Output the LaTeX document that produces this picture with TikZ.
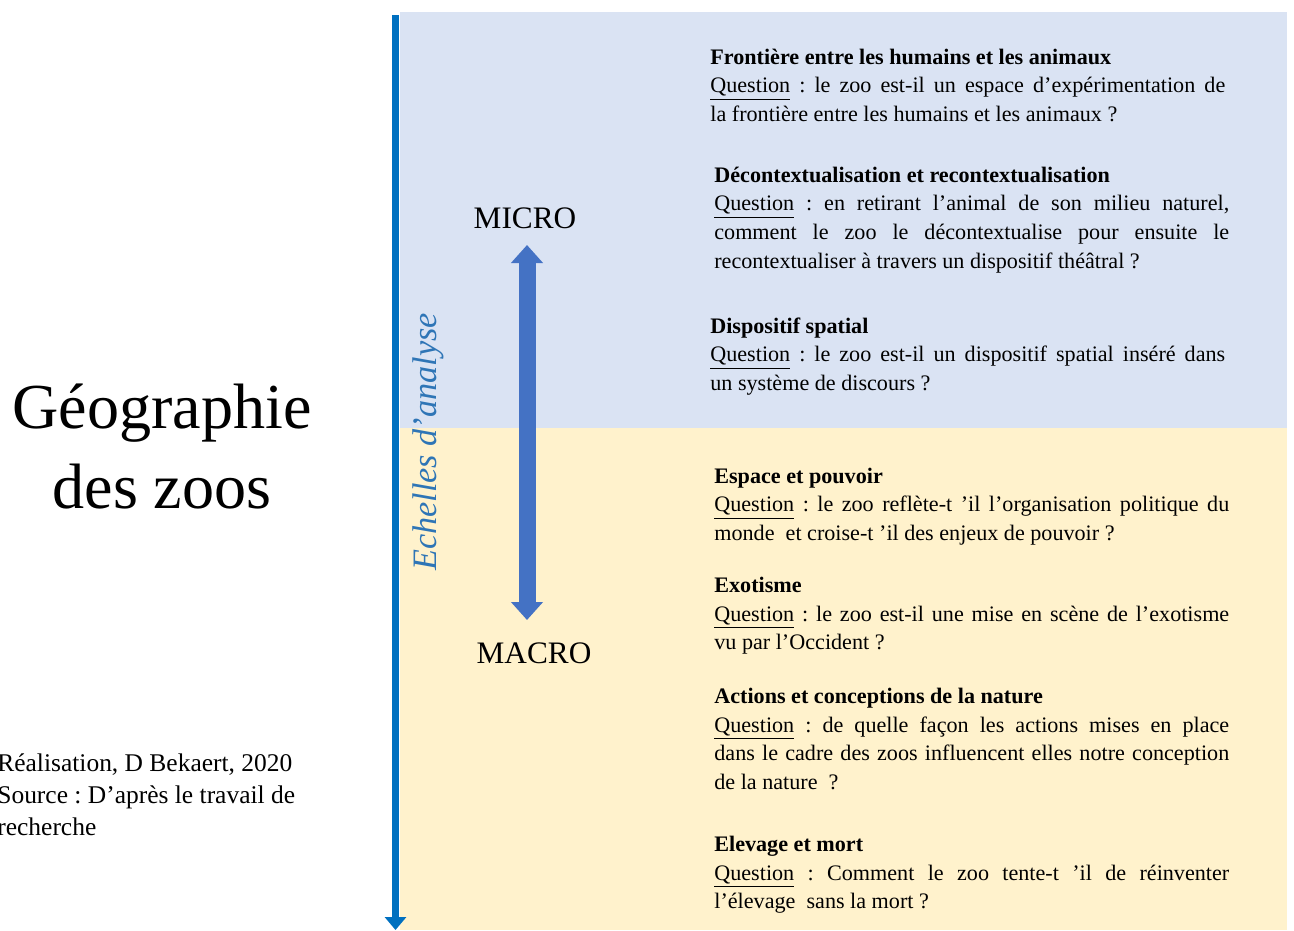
\documentclass[tikz,border=0pt]{standalone}
\usepackage{fontspec}
\setmainfont{Liberation Serif}
\usepackage{tikz}
\usetikzlibrary{arrows.meta,positioning}
\definecolor{microbg}{HTML}{DAE3F3}
\definecolor{macrobg}{HTML}{FFF2CC}
\definecolor{axisblue}{HTML}{0070C0}
\definecolor{scaleblue}{HTML}{4472C4}
\definecolor{labelblue}{HTML}{2E75B6}
\frenchspacing

\begin{document}
\begin{tikzpicture}[x=0.02cm, y=-0.02cm,
  block/.style={anchor=base west, inner sep=0pt, text width=10.3cm, align=justify, font=\fontsize{12.6}{16.5}\selectfont},
  scale label/.style={anchor=base, inner sep=0pt, font=\fontsize{17.8}{21}\selectfont},
  axis/.style={draw=axisblue, line width=0.14cm, -{Triangle[length=0.26cm, width=0.42cm]}},
  scalearrow/.style={draw=scaleblue, line width=0.34cm, {Triangle[length=0.36cm, width=0.62cm]}-{Triangle[length=0.36cm, width=0.62cm]}}
]
\useasboundingbox (0,0) rectangle (1294,930);
\fill[microbg] (400,12) rectangle (1287,428);
\fill[macrobg] (400,428) rectangle (1287,930);

\node[anchor=base, align=center, inner sep=0pt, font=\fontsize{36.5}{45.5}\selectfont] (title) at (162,508) {Géographie\\des zoos};
\node[anchor=base west, align=left, inner sep=0pt, font=\fontsize{14.5}{18.2}\selectfont] (credits) at (-3,835) {Réalisation, D Bekaert, 2020\\Source : D’après le travail de\\recherche};

\coordinate (axistop) at (395.5,15);
\coordinate (axisbot) at (395.5,930);
\draw[axis] (axistop) -- (axisbot);
\node[rotate=90, inner sep=0pt, text=labelblue, font=\itshape\fontsize{19.5}{23}\selectfont] (echelles) at (428,442) {Echelles d’analyse};

\node[scale label] (micro) at (525,228) {MICRO};
\node[scale label] (macro) at (534,663) {MACRO};
\coordinate (scaletop) at (527,245);
\coordinate (scalebot) at (527,620);
\draw[scalearrow] (scalebot) -- (scaletop);

\node[block] (frontiere) at (710,64) {\textbf{Frontière entre les humains et les animaux}\\
\underline{Question} : le zoo est-il un espace d’expérimentation de\linebreak
la frontière entre les humains et les animaux ?};
\node[block] (decontext) at (714,182) {\textbf{Décontextualisation et recontextualisation}\\
\underline{Question} : en retirant l’animal de son milieu naturel,\linebreak
comment le zoo le décontextualise pour ensuite le\linebreak
recontextualiser à travers un dispositif théâtral ?};
\node[block] (dispositif) at (710,333) {\textbf{Dispositif spatial}\\
\underline{Question} : le zoo est-il un dispositif spatial inséré dans\linebreak
un système de discours ?};
\node[block] (pouvoir) at (714,483) {\textbf{Espace et pouvoir}\\
\underline{Question} : le zoo reflète-t ’il l’organisation politique du\linebreak
monde \ et croise-t ’il des enjeux de pouvoir ?};
\node[block] (exotisme) at (714,592) {\textbf{Exotisme}\\
\underline{Question} : le zoo est-il une mise en scène de l’exotisme\linebreak
vu par l’Occident ?};
\node[block] (nature) at (714,703) {\textbf{Actions et conceptions de la nature}\\
\underline{Question} : de quelle façon les actions mises en place\linebreak
dans le cadre des zoos influencent elles notre conception\linebreak
de la nature \ ?};
\node[block] (elevage) at (714,851) {\textbf{Elevage et mort}\\
\underline{Question} : Comment le zoo tente-t ’il de réinventer\linebreak
l’élevage \ sans la mort ?};
\end{tikzpicture}
\end{document}
